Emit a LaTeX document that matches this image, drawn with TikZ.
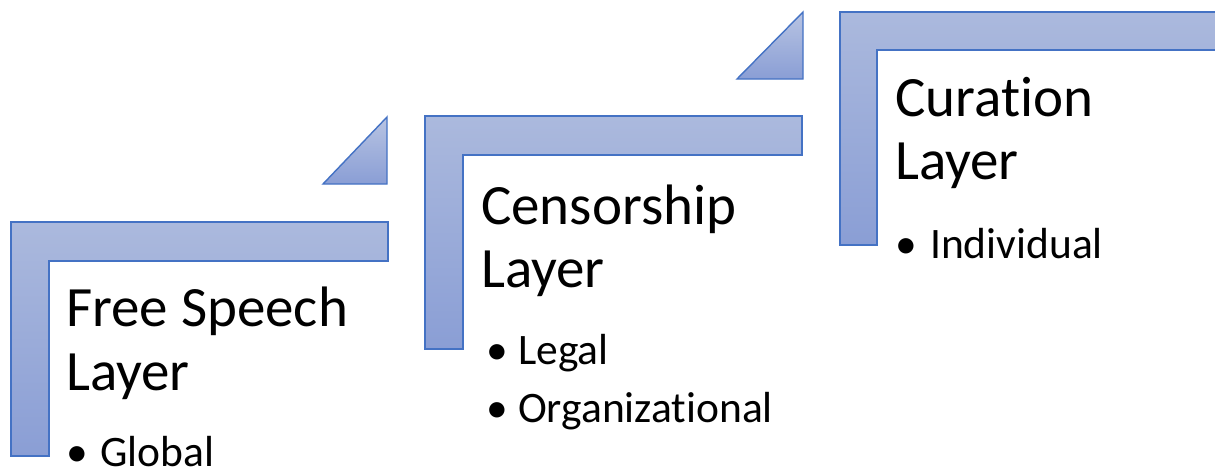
\documentclass[tikz,border=0pt]{standalone}
\usepackage{fontspec}
\setmainfont[Ligatures=NoCommon]{Carlito}
\definecolor{stepedge}{HTML}{4472C4}
\definecolor{steptop}{HTML}{ABB9DD}
\definecolor{stepbottom}{HTML}{8A9ED5}
\begin{document}
\begin{tikzpicture}[x=1pt,y=-1pt,
  stepshape/.style={draw=stepedge,line width=1.4pt,line join=miter,top color=steptop,bottom color=stepbottom},
  arrowhead/.style={draw=stepedge,line width=1.4pt,line join=miter,top color=steptop!85!white,bottom color=stepbottom},
  titletext/.style={anchor=base west,inner sep=0pt,font=\fontsize{57}{62}\selectfont},
  itemtext/.style={anchor=base west,inner sep=0pt,font=\fontsize{43.5}{47}\selectfont}]
\useasboundingbox (0,0) rectangle (1215,472);
\clip (0,0) rectangle (1215,472);
\fill[white] (0,0) rectangle (1215,472);

% corner brackets of the three steps
\path[stepshape] (11,222) -- (388,222) -- (388,261) -- (49,261) -- (49,456) -- (11,456) -- cycle;
\path[stepshape] (425,116) -- (802,116) -- (802,155) -- (463,155) -- (463,349) -- (425,349) -- cycle;
\path[stepshape] (840,12) -- (1230,12) -- (1230,50) -- (877,50) -- (877,245) -- (840,245) -- cycle;

% triangles leading up to the next step
\path[arrowhead] (387,117) -- (387,184) -- (323,184) -- cycle;
\path[arrowhead] (803,12) -- (803,79) -- (737,79) -- cycle;

% step 1
\node[titletext] (t1a) at (66,326) {Free Speech};
\node[titletext] (t1b) at (66,390) {Layer};
\node[itemtext] (i1a) at (66,466) {\makebox[34pt][l]{•}Global};

% step 2
\node[titletext] (t2a) at (481,224) {Censorship};
\node[titletext] (t2b) at (481,287) {Layer};
\node[itemtext] (i2a) at (486,364) {\makebox[32pt][l]{•}Legal};
\node[itemtext] (i2b) at (486,422) {\makebox[32pt][l]{•}Organizational};

% step 3
\node[titletext] (t3a) at (895,116) {Curation};
\node[titletext] (t3b) at (895,179) {Layer};
\node[itemtext] (i3a) at (895,258) {\makebox[35pt][l]{•}Individual};
\end{tikzpicture}
\end{document}
